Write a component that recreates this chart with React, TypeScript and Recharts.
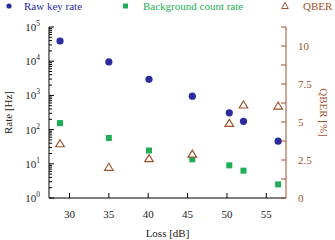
import React from 'react';
import { ScatterChart, Scatter, XAxis, YAxis } from 'recharts';

const loss = [28.8, 35, 40.1, 45.6, 50.3, 52.1, 56.5];
const rawKeyRate = [39000, 9500, 2950, 950, 310, 175, 46];
const backgroundRate = [155, 57, 24.5, 13.5, 9, 6.3, 2.5];
const qber = [3.57, 2.02, 2.59, 2.89, 4.91, 6.12, 6.05];

const lossTicks = [30, 32.5, 35, 37.5, 40, 42.5, 45, 47.5, 50, 52.5, 55];
const qberTicks = [0, 1.25, 2.5, 3.75, 5, 6.25, 7.5, 8.75, 10, 11.25];
const rateMajor = [1, 10, 100, 1000, 10000, 100000];

const rateTicks: number[] = [];
rateMajor.forEach((p, i) => {
  rateTicks.push(p);
  if (i < rateMajor.length - 1) {
    for (let m = 2; m <= 9; m++) rateTicks.push(p * m);
  }
});

const BLUE = '#2b2ba0';
const GREEN = '#1fae55';
const BROWN = '#a0522d';
const FONT = '"Liberation Serif", "DejaVu Serif", serif';

const rawData = loss.map((x, i) => ({ x, y: rawKeyRate[i] }));
const bgData = loss.map((x, i) => ({ x, y: backgroundRate[i] }));
const qberData = loss.map((x, i) => ({ x, y: qber[i] }));

const Dot = (props: any) => <circle cx={props.cx} cy={props.cy} r={3.6} fill={BLUE} />;
const Square = (props: any) => (
  <rect x={props.cx - 3} y={props.cy - 3} width={6} height={6} fill={GREEN} />
);
const Tri = (props: any) => (
  <path
    d={`M${props.cx},${props.cy - 4} L${props.cx + 4.3},${props.cy + 3} L${props.cx - 4.3},${props.cy + 3} Z`}
    fill="white"
    stroke={BROWN}
    strokeWidth={1.2}
  />
);

const BottomTick = (props: any) => {
  const { x, y, payload } = props;
  const major = payload.value % 5 === 0;
  return (
    <g>
      <line x1={x} y1={y} x2={x} y2={y - (major ? 5 : 3)} stroke="#000" />
      {major && (
        <text x={x} y={y + 20} textAnchor="middle" fontSize={11} fontFamily={FONT} fill="#222">
          {payload.value}
        </text>
      )}
    </g>
  );
};

const TopTick = (props: any) => {
  const { x, y, payload } = props;
  const major = payload.value % 5 === 0;
  return <line x1={x} y1={y} x2={x} y2={y + (major ? 5 : 3)} stroke="#000" />;
};

const LeftTick = (props: any) => {
  const { x, y, payload } = props;
  const exp = Math.round(Math.log10(payload.value));
  const major = Math.abs(Math.pow(10, exp) - payload.value) < 1e-6;
  return (
    <g>
      <line x1={x} y1={y} x2={x + (major ? 5 : 3)} y2={y} stroke="#000" />
      {major && (
        <text x={x - 9} y={y + 4} textAnchor="end" fontSize={11} fontFamily={FONT} fill="#222">
          <tspan>10</tspan>
          <tspan dy={-5} fontSize={7.5}>{exp}</tspan>
        </text>
      )}
    </g>
  );
};

const RightTick = (props: any) => {
  const { x, y, payload } = props;
  const label = payload.value % 2.5 === 0 && payload.value <= 10;
  return (
    <g>
      <line x1={x} y1={y} x2={x - 5} y2={y} stroke={BROWN} />
      {label && (
        <text x={x + 12} y={y + 4} textAnchor="start" fontSize={11} fontFamily={FONT} fill={BROWN}>
          {payload.value}
        </text>
      )}
    </g>
  );
};

const LeftLabel = (props: any) => {
  const { x, y, height } = props.viewBox;
  const cx = x + 12;
  const cy = y + height / 2;
  return (
    <text x={cx} y={cy} transform={`rotate(-90 ${cx} ${cy})`} textAnchor="middle" fontSize={11} fontFamily={FONT} fill="#222">
      Rate [Hz]
    </text>
  );
};

const RightLabel = (props: any) => {
  const { x, y, height } = props.viewBox;
  const cx = x + 34;
  const cy = y + height / 2;
  return (
    <text x={cx} y={cy} transform={`rotate(90 ${cx} ${cy})`} textAnchor="middle" fontSize={11} fontFamily={FONT} fill={BROWN}>
      QBER [%]
    </text>
  );
};

const legendItems = [
  { label: 'Raw key rate', color: BLUE, marker: 'dot', left: 4, textLeft: 24 },
  { label: 'Background count rate', color: GREEN, marker: 'square', left: 121, textLeft: 143 },
  { label: 'QBER', color: BROWN, marker: 'tri', left: 280, textLeft: 303 },
];

const Legend = () => (
  <svg width={335} height={16} style={{ position: 'absolute', left: 0, top: 0 }}>
    {legendItems.map((it) => (
      <g key={it.label}>
        {it.marker === 'dot' && <circle cx={it.left + 5} cy={6} r={2.6} fill={it.color} />}
        {it.marker === 'square' && <rect x={it.left + 2} y={3.5} width={5} height={5} fill={it.color} />}
        {it.marker === 'tri' && (
          <path d={`M${it.left + 5},2.5 L${it.left + 8.3},8.5 L${it.left + 1.7},8.5 Z`} fill="none" stroke={it.color} strokeWidth={1} />
        )}
        <text x={it.textLeft} y={10} fontSize={11} fontFamily={FONT} fill={it.color}>
          {it.label}
        </text>
      </g>
    ))}
  </svg>
);

export default function App() {
  return (
    <div style={{ position: 'relative', width: 335, height: 240, background: '#fff' }}>
      <style>{'body{margin:0}'}</style>
      <ScatterChart width={335} height={240} margin={{ top: 27, right: 0, left: 0, bottom: 0 }}>
        <XAxis
          xAxisId="bottom"
          dataKey="x"
          type="number"
          domain={[27.4, 57.5]}
          ticks={lossTicks}
          allowDataOverflow
          height={42}
          tickSize={0}
          tickMargin={0}
          tickLine={false}
          tick={<BottomTick />}
          axisLine={{ stroke: '#000' }}
          label={{ value: 'Loss [dB]', position: 'insideBottom', offset: 3, fontSize: 11, fontFamily: FONT, fill: '#222' }}
        />
        <XAxis
          xAxisId="top"
          dataKey="x"
          type="number"
          orientation="top"
          domain={[27.4, 57.5]}
          ticks={lossTicks}
          allowDataOverflow
          height={0}
          tickSize={0}
          tickMargin={0}
          tickLine={false}
          tick={<TopTick />}
          axisLine={{ stroke: '#000' }}
        />
        <YAxis
          yAxisId="rate"
          dataKey="y"
          type="number"
          scale="log"
          domain={[1, 100000]}
          ticks={rateTicks}
          allowDataOverflow
          width={49}
          tickSize={0}
          tickMargin={0}
          tickLine={false}
          tick={<LeftTick />}
          interval={0}
          axisLine={{ stroke: '#000' }}
          label={<LeftLabel />}
        />
        <YAxis
          yAxisId="qber"
          orientation="right"
          dataKey="y"
          type="number"
          domain={[0, 11.25]}
          ticks={qberTicks}
          allowDataOverflow
          width={49}
          tickSize={0}
          tickMargin={0}
          tickLine={false}
          tick={<RightTick />}
          interval={0}
          axisLine={{ stroke: BROWN }}
          label={<RightLabel />}
        />
        <Scatter data={rawData} xAxisId="bottom" yAxisId="rate" shape={<Dot />} isAnimationActive={false} />
        <Scatter data={bgData} xAxisId="bottom" yAxisId="rate" shape={<Square />} isAnimationActive={false} />
        <Scatter data={qberData} xAxisId="bottom" yAxisId="qber" shape={<Tri />} isAnimationActive={false} />
      </ScatterChart>
      <Legend />
    </div>
  );
}
